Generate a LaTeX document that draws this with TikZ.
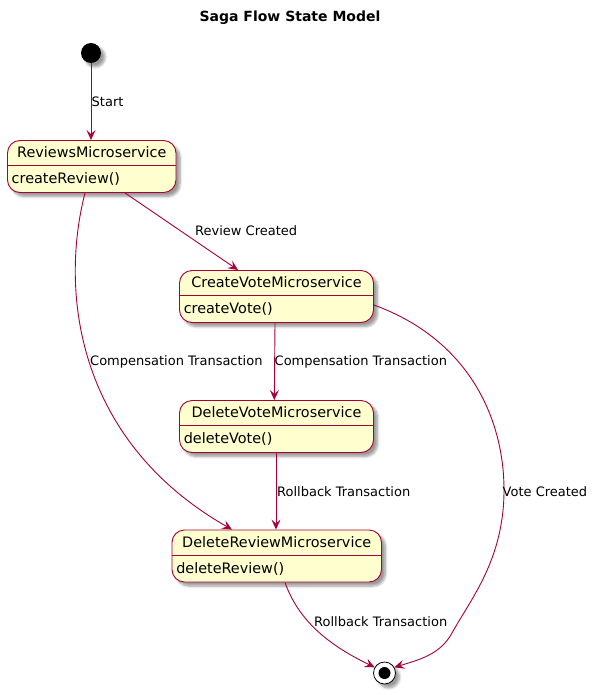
\documentclass[tikz,border=0pt]{standalone}
\usepackage{fontspec}
\setmainfont{DejaVu Sans}
\usetikzlibrary{shadows.blur,arrows.meta,calc}
\definecolor{pfill}{HTML}{FEFECE}
\definecolor{pline}{HTML}{A80036}
\begin{document}
\begin{tikzpicture}[x=1pt,y=-1pt,
  shadowed/.style={blur shadow={shadow xshift=4pt,shadow yshift=-4pt,shadow opacity=40,shadow blur steps=6,shadow blur radius=2.5pt}},
  statebox/.style={draw=pline,fill=pfill,rounded corners=12.5pt,line width=0.9pt,minimum height=52pt,inner sep=0pt,shadowed},
  nametext/.style={font=\fontsize{14.4}{16}\selectfont,inner sep=0pt},
  desctext/.style={font=\fontsize{14.4}{16}\selectfont,inner sep=0pt,anchor=west},
  divider/.style={draw=pline,line width=0.9pt},
  edge/.style={draw=pline,line width=0.9pt,-{Stealth[length=10pt,width=9pt,inset=4pt]}},
  lbl/.style={font=\fontsize{13}{15}\selectfont,inner sep=0pt,anchor=west}
]
\useasboundingbox (0,0) rectangle (594,695);
\node[font=\bfseries\fontsize{14}{16}\selectfont] (title) at (290,18) {Saga Flow State Model};

% initial and final
\node[circle,fill=black,minimum size=20pt,inner sep=0pt,shadowed] (init) at (91,53) {};
\node[circle,draw=black,fill=white,minimum size=22pt,inner sep=0pt,line width=0.8pt,shadowed] (fin) at (384.5,673) {};
\node[circle,fill=black,minimum size=12pt,inner sep=0pt] (finin) at (fin.center) {};

% states
\node[statebox,minimum width=168.5pt] (rev) at (91.75,166.5) {};
\draw[divider] ($(rev.north west)+(0,25.5)$) -- ($(rev.north east)+(0,25.5)$);
\node[nametext] (revn) at ($(rev.north)+(0,12.5)$) {ReviewsMicroservice};
\node[desctext] (revd) at ($(rev.north west)+(4.5,39)$) {createReview()};

\node[statebox,minimum width=194pt] (cv) at (276.5,296.5) {};
\draw[divider] ($(cv.north west)+(0,25.5)$) -- ($(cv.north east)+(0,25.5)$);
\node[nametext] (cvn) at ($(cv.north)+(0,12.5)$) {CreateVoteMicroservice};
\node[desctext] (cvd) at ($(cv.north west)+(4.5,39)$) {createVote()};

\node[statebox,minimum width=194pt] (dv) at (276.5,426.5) {};
\draw[divider] ($(dv.north west)+(0,25.5)$) -- ($(dv.north east)+(0,25.5)$);
\node[nametext] (dvn) at ($(dv.north)+(0,12.5)$) {DeleteVoteMicroservice};
\node[desctext] (dvd) at ($(dv.north west)+(4.5,39)$) {deleteVote()};

\node[statebox,minimum width=209.5pt] (dr) at (276.75,556) {};
\draw[divider] ($(dr.north west)+(0,26)$) -- ($(dr.north east)+(0,26)$);
\node[nametext] (drn) at ($(dr.north)+(0,12.5)$) {DeleteReviewMicroservice};
\node[desctext] (drd) at ($(dr.north west)+(4.5,39)$) {deleteReview()};

% transitions
\draw[edge] (init.south) -- (init.south |- rev.north);
\node[lbl] (l1) at (91.5,102) {Start};

\draw[edge] ($(rev.south)+(33.25,0)$) -- ($(cv.north)+(-38.5,0)$);
\node[lbl] (l2) at (195,231) {Review Created};

\draw[edge] ($(rev.south)+(-6.75,0)$) .. controls (60,290) and (75,440) .. ($(dr.north)+(-44.75,0)$);
\node[lbl] (l3) at (90,361.5) {Compensation Transaction};

\draw[edge] ($(cv.south)+(-1.5,0)$) -- ($(dv.north)+(-2.2,0)$);
\node[lbl] (l4) at (274.5,361.5) {Compensation Transaction};

\draw[edge] ($(dv.south)+(-0.5,0)$) -- ($(dr.north)+(-0.75,0)$);
\node[lbl] (l5) at (277,491.5) {Rollback Transaction};

\draw[edge] ($(cv.east)+(0,8.5)$) .. controls (470,340) and (504,420) .. (504,490)
   .. controls (504,560) and (470,600) .. (452,633)
   .. controls (440,655) and (418,660) .. (fin.30);
\node[lbl] (l6) at (502.5,491.5) {Vote Created};

\draw[edge] ($(dr.south)+(8.25,0)$) .. controls (300,625) and (335,648) .. (fin.150);
\node[lbl] (l7) at (314,621.5) {Rollback Transaction};
\end{tikzpicture}
\end{document}
